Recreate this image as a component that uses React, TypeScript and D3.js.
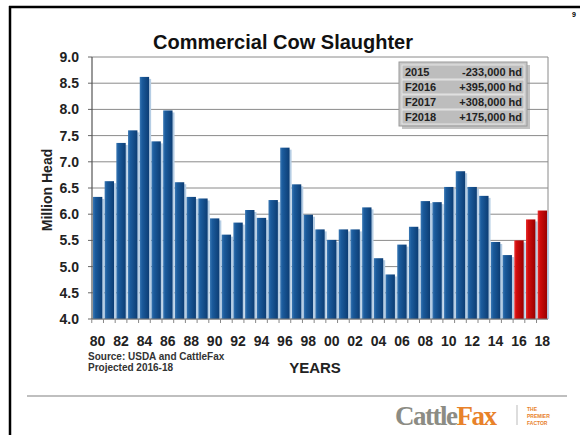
import React from "react";
import * as d3 from "d3";

const years = ["80","81","82","83","84","85","86","87","88","89","90","91","92","93","94","95","96","97","98","99","00","01","02","03","04","05","06","07","08","09","10","11","12","13","14","15","16","17","18"];
const values = [6.33,6.63,7.36,7.60,8.62,7.39,7.98,6.61,6.33,6.30,5.92,5.61,5.84,6.08,5.93,6.27,7.27,6.57,5.99,5.71,5.51,5.71,5.71,6.13,5.16,4.85,5.42,5.76,6.25,6.23,6.52,6.82,6.52,6.35,5.47,5.22,5.50,5.90,6.07];
const projected = ["16","17","18"];
const yTicks = [4.0,4.5,5.0,5.5,6.0,6.5,7.0,7.5,8.0,8.5,9.0];
const xLabels = ["80","82","84","86","88","90","92","94","96","98","00","02","04","06","08","10","12","14","16","18"];
const legendYears = ["2015","F2016","F2017","F2018"];
const legendChanges = ["-233,000 hd","+395,000 hd","+308,000 hd","+175,000 hd"];

export default function App() {
  const left = 92, right = 548, top = 57, bottom = 319;
  const x = d3.scaleBand<string>().domain(years).range([left, right]).paddingInner(0.2).paddingOuter(0.08);
  const y = d3.scaleLinear().domain([4, 9]).range([bottom, top]);
  const font = "Liberation Sans, Arial, sans-serif";
  const step = x.step();
  return (
    <svg width={580} height={435} style={{ position: "absolute", left: 0, top: 0, background: "#fff" }} fontFamily={font}>
      <defs>
        <linearGradient id="blueG" x1="0" x2="1" y1="0" y2="0">
          <stop offset="0" stopColor="#3a78b4" />
          <stop offset="0.25" stopColor="#1b5b9c" />
          <stop offset="1" stopColor="#0c3d74" />
        </linearGradient>
        <linearGradient id="redG" x1="0" x2="1" y1="0" y2="0">
          <stop offset="0" stopColor="#e83030" />
          <stop offset="0.25" stopColor="#d00c0c" />
          <stop offset="1" stopColor="#9a0000" />
        </linearGradient>
      </defs>
      {/* page frame */}
      <line x1={10} x2={10} y1={6} y2={435} stroke="#000" strokeWidth={2.5} />
      <line x1={9} x2={580} y1={7} y2={7} stroke="#000" strokeWidth={2.5} />
      <text x={574} y={17} fontSize={7} fontWeight="bold" textAnchor="middle">9</text>
      {/* title */}
      <text x={283} y={49} fontSize={20} fontWeight="bold" textAnchor="middle" fill="#111">Commercial Cow Slaughter</text>
      {/* gridlines */}
      {yTicks.map(t => (
        <g key={t}>
          <line x1={left} x2={right} y1={y(t)} y2={y(t)} stroke="#8a8a8a" strokeWidth={1} />
          <line x1={left - 4} x2={left} y1={y(t)} y2={y(t)} stroke="#666" strokeWidth={1} />
          <text x={79} y={y(t) + 5} fontSize={14} fontWeight="bold" textAnchor="end" fill="#222">{t.toFixed(1)}</text>
        </g>
      ))}
      <line x1={right} x2={right} y1={top} y2={bottom} stroke="#8a8a8a" strokeWidth={1} />
      {/* bars shadows */}
      {years.map((yr, i) => (
        <rect key={"s" + yr} x={(x(yr) as number) + 2} y={y(values[i]) + 2} width={x.bandwidth()} height={bottom - y(values[i]) - 2} fill="#b5cde4" />
      ))}
      {years.map((yr, i) => (
        <rect key={yr} x={x(yr)} y={y(values[i])} width={x.bandwidth()} height={bottom - y(values[i])}
          fill={projected.includes(yr) ? "url(#redG)" : "url(#blueG)"} />
      ))}
      {/* axes */}
      <line x1={left} x2={left} y1={top} y2={bottom} stroke="#555" strokeWidth={1.2} />
      <line x1={left} x2={right} y1={bottom} y2={bottom} stroke="#777" strokeWidth={1} />
      {years.map((yr) => (
        <line key={"t" + yr} x1={(x(yr) as number) - (step - x.bandwidth()) / 2} x2={(x(yr) as number) - (step - x.bandwidth()) / 2} y1={bottom} y2={bottom + 4} stroke="#888" strokeWidth={1} />
      ))}
      {xLabels.map(l => (
        <text key={l} x={(x(l) as number) + x.bandwidth() / 2} y={346} fontSize={14} fontWeight="bold" textAnchor="middle" fill="#222">{l}</text>
      ))}
      <text transform="translate(52,190) rotate(-90)" fontSize={14} fontWeight="bold" textAnchor="middle" fill="#222">Million Head</text>
      <text x={315} y={373} fontSize={15} fontWeight="bold" textAnchor="middle" fill="#222">YEARS</text>
      <text x={88} y={360} fontSize={10} fontWeight="bold" fill="#333">Source: USDA and CattleFax</text>
      <text x={88} y={371} fontSize={10} fontWeight="bold" fill="#333">Projected 2016-18</text>
      {/* legend box */}
      <rect x={402} y={65} width={128} height={64} fill="#888" opacity={0.5} />
      <rect x={399} y={62} width={128} height={64} fill="#c8c8c8" stroke="#9a9a9a" strokeWidth={1} />
      {legendYears.map((ly, i) => (
        <g key={ly}>
          <rect x={402} y={65 + i * 15} width={122} height={14} fill="#bdbdbd" stroke="#eee" strokeWidth={0.8} />
          <text x={405} y={76 + i * 15} fontSize={11} fontWeight="bold" fill="#222">{ly}</text>
          <text x={522} y={76 + i * 15} fontSize={11} fontWeight="bold" textAnchor="end" fill="#222">{legendChanges[i]}</text>
        </g>
      ))}
      {/* footer */}
      <line x1={27} x2={567} y1={396} y2={396} stroke="#aaa" strokeWidth={1.5} />
      <text x={395} y={425} fontSize={27} fontWeight="bold" fontFamily="Liberation Serif, serif" letterSpacing={-1.5}>
        <tspan fill="#8c8c84">Cattle</tspan><tspan fill="#e8822a">Fax</tspan>
      </text>
      <line x1={517} x2={517} y1={405} y2={425} stroke="#bbb" strokeWidth={1} />
      <text x={527} y={411} fontSize={5} fontWeight="bold" fill="#e8822a">THE</text>
      <text x={527} y={418} fontSize={5} fontWeight="bold" fill="#e8822a">PREMIER</text>
      <text x={527} y={425} fontSize={5} fontWeight="bold" fill="#e8822a">FACTOR</text>
    </svg>
  );
}
